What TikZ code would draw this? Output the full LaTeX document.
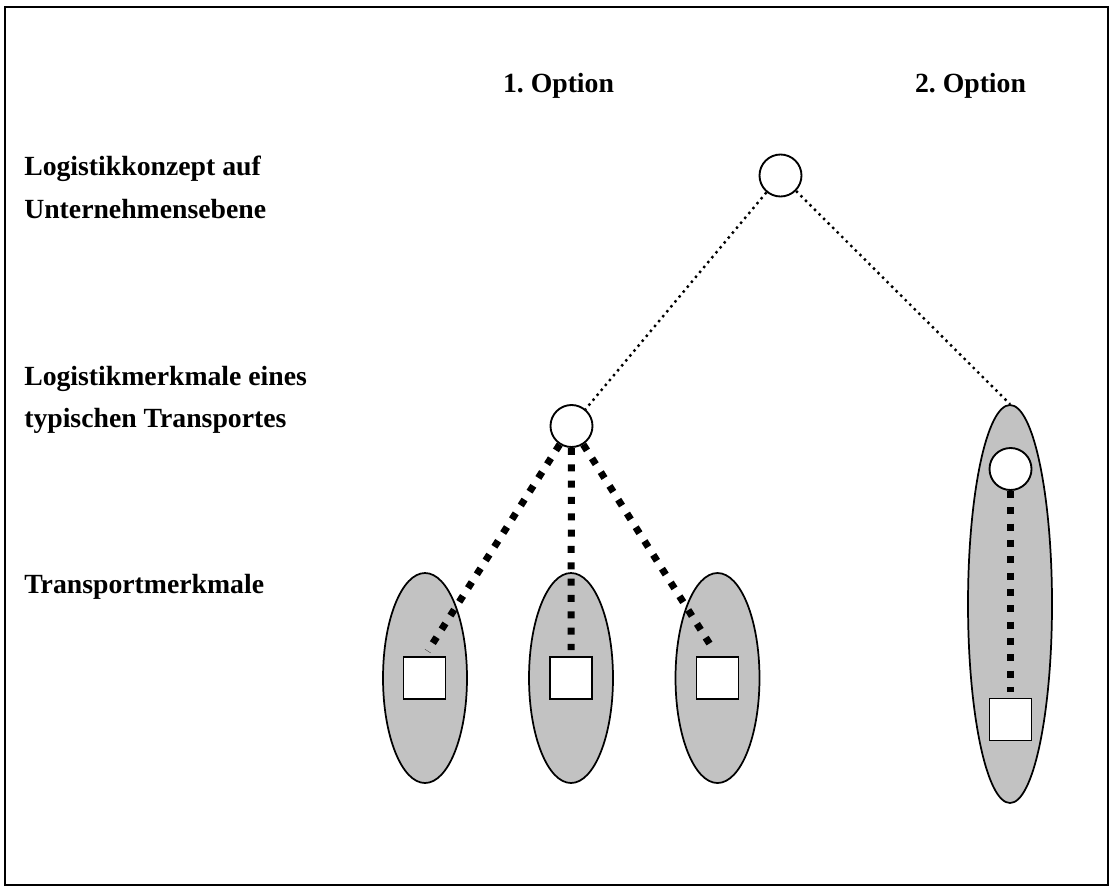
\documentclass[tikz,border=0pt]{standalone}
\usepackage{fontspec}
\setmainfont{Liberation Serif}
\usetikzlibrary{shapes.geometric}
\frenchspacing
\begin{document}
\begin{tikzpicture}[x=0.75pt,y=-0.75pt,
  lbl/.style={font=\fontsize{20.8}{25}\selectfont\bfseries, inner sep=0pt},
  grp/.style={draw=black, line width=1.3pt, fill=gray!48, ellipse, inner sep=0pt, minimum width=84*0.75pt},
  knot/.style={draw=black, line width=1.4pt, fill=white, circle, inner sep=0pt, minimum size=42*0.75pt},
  feat/.style={draw=black, line width=1.2pt, fill=white, rectangle, inner sep=0pt, minimum size=42*0.75pt},
  thin/.style={line width=1.8pt, dash pattern=on 1.8pt off 3pt},
  thick/.style={line width=5.25pt, dash pattern=on 5.25pt off 7pt, shorten >=4.5pt}]
\useasboundingbox (0,0) rectangle (1109,886);
\draw[line width=1.8pt] (5,7) rectangle (1108,885);

\node[lbl, anchor=base] (o1) at (558.5,92) {1. Option};
\node[lbl, anchor=base] (o2) at (970.5,92) {2. Option};
\node[lbl, anchor=base west] (t1a) at (24,175) {Logistikkonzept auf};
\node[lbl, anchor=base west] (t1b) at (24,218) {Unternehmensebene};
\node[lbl, anchor=base west] (t2a) at (24,385) {Logistikmerkmale eines};
\node[lbl, anchor=base west] (t2b) at (24,427) {typischen Transportes};
\node[lbl, anchor=base west] (t3) at (24,593) {Transportmerkmale};

\node[grp, minimum height=210*0.75pt] (e1) at (425,678) {};
\node[grp, minimum height=210*0.75pt] (e2) at (571,678) {};
\node[grp, minimum height=210*0.75pt] (e3) at (717.5,678) {};
\node[grp, minimum height=398*0.75pt] (e4) at (1010,604) {};

\node[knot] (top) at (780.5,175.5) {};
\node[knot] (mid) at (571.5,426) {};
\node[knot] (rc) at (1010.5,469) {};

\node[feat] (s1) at (424.5,678) {};
\node[feat] (s2) at (571,678) {};
\node[feat] (s3) at (717.5,678) {};
\node[feat] (s4) at (1010.5,719.5) {};

\draw[thin] (top) -- (mid);
\draw[thin] (top) -- (e4.north);
\draw[thick] (mid) -- (s1.north);
\draw[thick] (mid) -- (s2.north);
\draw[thick] (mid) -- (s3.north);
\draw[thick] (rc) -- (s4.north);
\end{tikzpicture}
\end{document}
